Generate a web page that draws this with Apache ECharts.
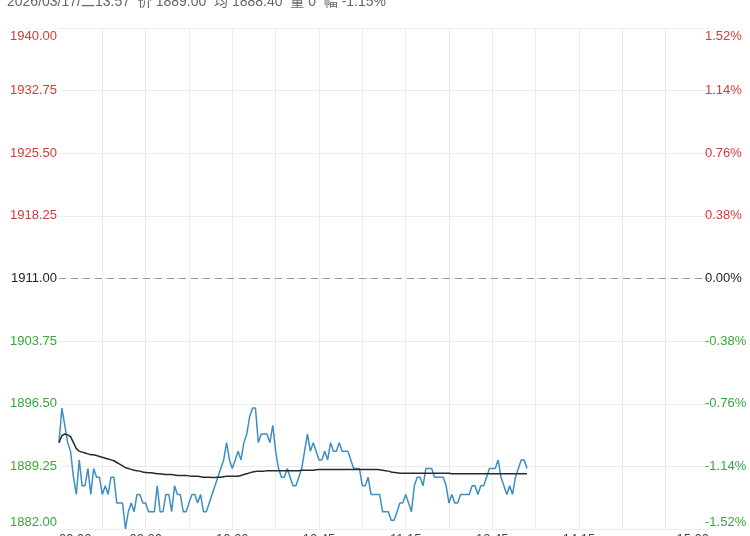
<!DOCTYPE html>
<html>
<head>
<meta charset="utf-8">
<script src="https://cdn.jsdelivr.net/npm/echarts@6/dist/echarts.min.js"></script>
<style>
html, body { margin: 0; padding: 0; background: #fff; }
#chart { width: 750px; height: 536px; }
</style>
</head>
<body>
<div id="chart"></div>
<script>
var myChart = echarts.init(document.getElementById('chart'));

// header line
var headerText = '2026/03/17/二13:57  价 1889.00  均 1888.40  量 0  幅 -1.15%';

// previous settle, axis range
var basePrice = 1911;
var yMin = 1882, yMax = 1940, yStep = 7.25;

// x axis: one slot per trading minute, a tick every 15 minutes
var xTickLabels = ['09:00', '', '09:30', '', '10:00', '', '10:45', '', '11:15', '', '13:45', '', '14:15', '', '', '15:00'];
var totalMinutes = 225;

// price per minute, 09:00 .. 13:57
var prices = [
    1892, 1896, 1894, 1892, 1891, 1888, 1886, 1890, 1887, 1887,
    1889, 1886, 1889, 1888, 1888, 1886, 1887, 1886, 1888, 1888,
    1885, 1885, 1885, 1882, 1884, 1885, 1884, 1886, 1886, 1885,
    1885, 1884, 1884, 1884, 1887, 1884, 1884, 1886, 1886, 1884,
    1887, 1886, 1886, 1884, 1884, 1885, 1886, 1886, 1885, 1886,
    1884, 1884, 1885, 1886, 1887, 1888, 1889, 1890, 1892, 1890,
    1889, 1890, 1891, 1890, 1892, 1893, 1895, 1896, 1896, 1892,
    1893, 1893, 1893, 1892, 1894, 1891, 1889, 1888, 1888, 1889,
    1888, 1887, 1887, 1888, 1889, 1891, 1893, 1891, 1892, 1891,
    1890, 1890, 1891, 1890, 1892, 1891, 1891, 1892, 1891, 1891,
    1891, 1890, 1889, 1889, 1889, 1887, 1887, 1888, 1886, 1886,
    1886, 1886, 1884, 1884, 1884, 1883, 1883, 1884, 1885, 1885,
    1886, 1885, 1884, 1887, 1888, 1888, 1887, 1889, 1889, 1889,
    1888, 1888, 1888, 1888, 1887, 1885, 1886, 1885, 1885, 1886,
    1886, 1886, 1886, 1887, 1887, 1886, 1887, 1887, 1888, 1889,
    1889, 1889, 1890, 1888, 1887, 1886, 1887, 1886, 1888, 1889,
    1890, 1890, 1889
];

// average price per minute
var avgPrices = [
    1892.0, 1892.8, 1893.0, 1892.9, 1892.7, 1892.0, 1891.3, 1891.0, 1890.9, 1890.8,
    1890.7, 1890.6, 1890.6, 1890.5, 1890.4, 1890.3, 1890.2, 1890.1, 1890.0, 1889.9,
    1889.7, 1889.5, 1889.3, 1889.1, 1889.0, 1888.9, 1888.8, 1888.75, 1888.7, 1888.6,
    1888.55, 1888.5, 1888.5, 1888.45, 1888.4, 1888.4, 1888.35, 1888.3, 1888.3, 1888.3,
    1888.25, 1888.2, 1888.2, 1888.2, 1888.2, 1888.15, 1888.1, 1888.1, 1888.1, 1888.05,
    1888.0, 1888.0, 1888.0, 1887.95, 1887.95, 1888.0, 1888.0, 1888.05, 1888.1, 1888.1,
    1888.1, 1888.1, 1888.1, 1888.2, 1888.3, 1888.4, 1888.5, 1888.6, 1888.65, 1888.7,
    1888.7, 1888.7, 1888.75, 1888.75, 1888.75, 1888.75, 1888.75, 1888.75, 1888.75, 1888.75,
    1888.75, 1888.75, 1888.75, 1888.75, 1888.8, 1888.8, 1888.8, 1888.8, 1888.8, 1888.85,
    1888.9, 1888.9, 1888.9, 1888.9, 1888.9, 1888.9, 1888.9, 1888.9, 1888.9, 1888.9,
    1888.9, 1888.9, 1888.9, 1888.9, 1888.9, 1888.9, 1888.9, 1888.9, 1888.9, 1888.9,
    1888.9, 1888.85, 1888.8, 1888.75, 1888.7, 1888.6, 1888.55, 1888.5, 1888.45, 1888.45,
    1888.45, 1888.45, 1888.45, 1888.45, 1888.45, 1888.45, 1888.45, 1888.45, 1888.45, 1888.45,
    1888.45, 1888.45, 1888.45, 1888.45, 1888.45, 1888.45, 1888.4, 1888.4, 1888.4, 1888.4,
    1888.4, 1888.4, 1888.4, 1888.4, 1888.4, 1888.4, 1888.4, 1888.4, 1888.4, 1888.4,
    1888.4, 1888.4, 1888.4, 1888.4, 1888.4, 1888.4, 1888.4, 1888.4, 1888.4, 1888.4,
    1888.4, 1888.4, 1888.4
];

var RED = '#d23b38', GREEN = '#35a83a', FLAT = '#222';

function toPairs(arr) {
    return arr.map(function (v, i) { return [i, v]; });
}

// pick rich style: colour by side of base, nudge top/bottom labels inward
function styleName(v) {
    var s = v > basePrice ? 'up' : (v < basePrice ? 'dn' : 'fl');
    if (Math.abs(v - yMax) < 1e-6) s += 'T';
    if (Math.abs(v - yMin) < 1e-6) s += 'B';
    return s;
}

function richStyles() {
    var base = { fontSize: 13, fontFamily: 'Liberation Sans, Arial, sans-serif' };
    var cols = { up: RED, dn: GREEN, fl: FLAT };
    var r = {};
    Object.keys(cols).forEach(function (k) {
        r[k] = Object.assign({ color: cols[k] }, base);
        r[k + 'T'] = Object.assign({ color: cols[k], padding: [16, 0, 0, 0] }, base);
        r[k + 'B'] = Object.assign({ color: cols[k], padding: [0, 0, 14, 0] }, base);
    });
    return r;
}

var option = {
    animation: false,
    title: {
        text: headerText,
        left: 2,
        top: -10,
        textStyle: {
            fontSize: 14,
            fontWeight: 'normal',
            color: '#666',
            fontFamily: 'Liberation Sans, Noto Sans CJK SC, sans-serif'
        }
    },
    grid: {
        left: 59,
        right: 41,
        top: 28,
        bottom: 7,
        outerBoundsMode: 'none'
    },
    xAxis: {
        type: 'value',
        min: 0,
        max: totalMinutes,
        interval: 15,
        axisLine: { show: false },
        axisTick: { show: false },
        splitLine: {
            show: true,
            showMinLine: false,
            showMaxLine: false,
            lineStyle: { color: '#ececec' }
        },
        axisLabel: {
            margin: 4,
            fontSize: 13,
            color: '#444',
            fontFamily: 'Liberation Sans, Arial, sans-serif',
            alignMinLabel: 'left',
            alignMaxLabel: 'right',
            formatter: function (v) {
                return xTickLabels[Math.round(v / 15)] || '';
            }
        }
    },
    yAxis: [
        {
            type: 'value',
            min: yMin,
            max: yMax,
            interval: yStep,
            axisLine: { show: false },
            axisTick: { show: false },
            splitLine: { lineStyle: { color: '#ececec' } },
            axisLabel: {
                margin: 2,
                rich: richStyles(),
                formatter: function (v) {
                    return '{' + styleName(v) + '|' + v.toFixed(2) + '}';
                }
            }
        },
        {
            type: 'value',
            position: 'right',
            min: yMin,
            max: yMax,
            interval: yStep,
            axisLine: { show: false },
            axisTick: { show: false },
            splitLine: { show: false },
            axisLabel: {
                margin: -4,
                align: 'left',
                rich: richStyles(),
                formatter: function (v) {
                    var pct = (v - basePrice) / basePrice * 100;
                    return '{' + styleName(v) + '|' + pct.toFixed(2) + '%}';
                }
            }
        }
    ],
    series: [
        {
            name: '价',
            type: 'line',
            data: toPairs(prices),
            showSymbol: false,
            lineStyle: { color: '#3d8fc2', width: 1.5 },
            itemStyle: { color: '#3d8fc2' },
            markLine: {
                silent: true,
                symbol: 'none',
                label: { show: false },
                lineStyle: { color: '#999', type: [7, 5], width: 1 },
                data: [{ yAxis: basePrice }]
            }
        },
        {
            name: '均',
            type: 'line',
            data: toPairs(avgPrices),
            showSymbol: false,
            smooth: false,
            lineStyle: { color: '#2a2a2a', width: 1.5 },
            itemStyle: { color: '#2a2a2a' }
        }
    ]
};

myChart.setOption(option);
</script>
</body>
</html>
